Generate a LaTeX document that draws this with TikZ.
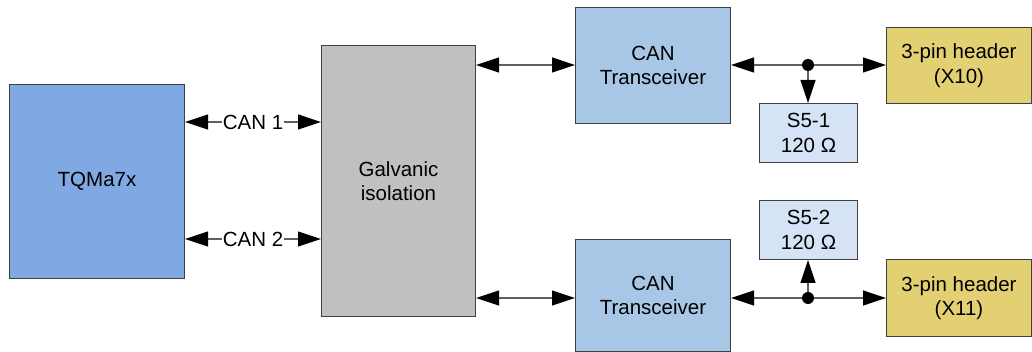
\documentclass[tikz,border=0pt]{standalone}
\usepackage{fontspec}
\setmainfont{Liberation Sans}
\usetikzlibrary{arrows.meta}
\definecolor{tqblue}{HTML}{80A8E2}
\definecolor{galgray}{HTML}{C0C0C0}
\definecolor{trblue}{HTML}{A8C6E6}
\definecolor{swblue}{HTML}{D6E3F6}
\definecolor{hdr}{HTML}{E2D073}
\definecolor{edge}{HTML}{404040}
\definecolor{wire}{HTML}{606060}
\begin{document}
\begin{tikzpicture}[x=1pt,y=-1pt,
  box/.style={draw=edge,line width=1pt,anchor=north west,inner sep=0pt,align=center,font=\fontsize{20.5}{24.5}\selectfont},
  tip/.tip={Triangle[length=23pt,width=15pt,color=black]},
  conn/.style={draw=wire,line width=1.2pt,tip-tip},
  uni/.style={draw=wire,line width=1.2pt,-tip},
  lbl/.style={fill=white,inner sep=1pt,font=\fontsize{20.5}{24.5}\selectfont},
  dot/.style={circle,fill=black,inner sep=0pt,minimum size=12pt}]
\useasboundingbox (0,0) rectangle (1032,352);
\node[box,fill=tqblue,minimum width=175pt,minimum height=194pt] (tq) at (9,84) {TQMa7x};
\node[box,fill=galgray,minimum width=154pt,minimum height=271pt] (gal) at (321,45) {Galvanic\\isolation};
\node[box,fill=trblue,minimum width=155pt,minimum height=116pt] (tr1) at (575,7) {CAN\\Transceiver};
\node[box,fill=trblue,minimum width=155pt,minimum height=112pt] (tr2) at (575,239) {CAN\\Transceiver};
\node[box,fill=swblue,minimum width=98pt,minimum height=59pt] (s1) at (759,103) {S5-1\\120 Ω};
\node[box,fill=swblue,minimum width=98pt,minimum height=59pt] (s2) at (759,200) {S5-2\\120 Ω};
\node[box,fill=hdr,minimum width=145pt,minimum height=76pt] (h1) at (886,27) {3-pin header\\(X10)};
\node[box,fill=hdr,minimum width=145pt,minimum height=77pt] (h2) at (886,259) {3-pin header\\(X11)};
\coordinate (c1a) at (185,122); \coordinate (c1b) at (320,122);
\coordinate (c2a) at (185,239); \coordinate (c2b) at (320,239);
\draw[conn] (tq.east|-c1a) -- (gal.west|-c1b) node[midway,lbl] {CAN 1};
\draw[conn] (tq.east|-c2a) -- (gal.west|-c2b) node[midway,lbl] {CAN 2};
\coordinate (g1) at (476,65); \coordinate (g2) at (476,298);
\draw[conn] (gal.east|-g1) -- (tr1.west|-g1);
\draw[conn] (gal.east|-g2) -- (tr2.west|-g2);
\coordinate (j1) at (808,65);
\coordinate (j2) at (808,298);
\draw[uni] (j1) -- (tr1.east|-j1);
\draw[uni] (j1) -- (h1.west|-j1);
\draw[uni] (j1) -- (s1.north-|j1);
\draw[uni] (j2) -- (tr2.east|-j2);
\draw[uni] (j2) -- (h2.west|-j2);
\draw[uni] (j2) -- (s2.south-|j2);
\node[dot] (d1) at (j1) {};
\node[dot] (d2) at (j2) {};
\end{tikzpicture}
\end{document}
